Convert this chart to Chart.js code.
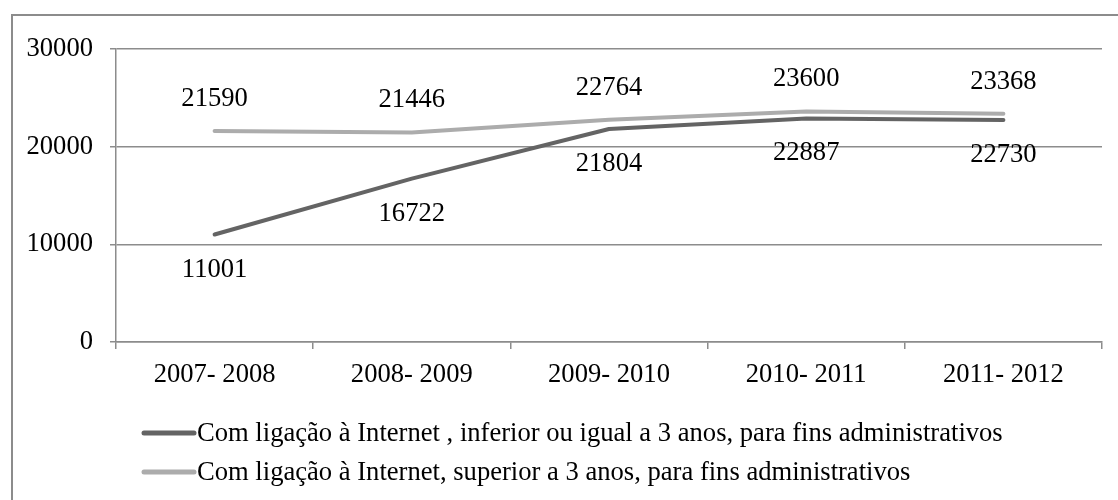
<!DOCTYPE html>
<html>
<head>
<meta charset="utf-8">
<script src="https://cdn.jsdelivr.net/npm/chart.js@4"></script>
<style>
  html, body { margin: 0; padding: 0; background: #fff; }
  #wrap {
    position: absolute;
    left: 11px;
    top: 14px;
    width: 1105px;
    height: 484px;
    border-left: 2px solid #8c8c8c;
    border-top: 2px solid #8c8c8c;
  }
</style>
</head>
<body>
<div id="wrap"><canvas id="ligacaoChart" width="1105" height="484"></canvas></div>
<script>
const anos = ["2007- 2008", "2008- 2009", "2009- 2010", "2010- 2011", "2011- 2012"];
const ateTresAnos = [11001, 16722, 21804, 22887, 22730];
const maisTresAnos = [21590, 21446, 22764, 23600, 23368];
const yTicks = [0, 10000, 20000, 30000];

const serif = "'Liberation Serif', 'Times New Roman', serif";
const fontSize = 26.6;

// value labels: dark line below the point, light line above
const valueLabels = {
    id: 'valueLabels',
    afterDatasetsDraw(chart) {
        const c = chart.ctx;
        c.save();
        c.font = fontSize + "px " + serif;
        c.fillStyle = "#000";
        c.textAlign = "center";
        c.textBaseline = "middle";
        chart.data.datasets.forEach((ds, i) => {
            chart.getDatasetMeta(i).data.forEach((pt, j) => {
                c.fillText(String(ds.data[j]), pt.x, pt.y + ds.labelShift);
            });
        });
        c.restore();
    }
};

// legend rows under the axis, left aligned
const legendRows = {
    id: 'legendRows',
    afterDraw(chart) {
        const c = chart.ctx;
        c.save();
        c.font = fontSize + "px " + serif;
        c.textBaseline = "middle";
        c.textAlign = "left";
        chart.data.datasets.forEach((ds, i) => {
            const y = 417 + i * 39;
            c.strokeStyle = ds.borderColor;
            c.lineWidth = 5;
            c.lineCap = "round";
            c.beginPath();
            c.moveTo(131, y);
            c.lineTo(181, y);
            c.stroke();
            c.fillStyle = "#000";
            c.fillText(ds.label, 184, y + 1);
        });
        c.restore();
    }
};

new Chart(document.getElementById('ligacaoChart'), {
    type: 'line',
    data: {
        labels: anos,
        datasets: [
            {
                label: "Com ligação à Internet , inferior ou igual a 3 anos, para fins administrativos",
                data: ateTresAnos,
                borderColor: "#646464",
                borderWidth: 4,
                borderCapStyle: "round",
                borderJoinStyle: "round",
                pointRadius: 0,
                tension: 0,
                labelShift: 35
            },
            {
                label: "Com ligação à Internet, superior a 3 anos, para fins administrativos",
                data: maisTresAnos,
                borderColor: "#acacac",
                borderWidth: 4,
                borderCapStyle: "round",
                borderJoinStyle: "round",
                pointRadius: 0,
                tension: 0,
                labelShift: -32
            }
        ]
    },
    options: {
        responsive: false,
        animation: false,
        layout: { padding: { top: 28, right: 16, bottom: 98, left: 0 } },
        plugins: {
            legend: { display: false },
            tooltip: { enabled: false }
        },
        scales: {
            x: {
                offset: true,
                grid: {
                    offset: true,
                    drawOnChartArea: false,
                    drawTicks: true,
                    tickLength: 7,
                    color: "#8c8c8c",
                    lineWidth: 1.5
                },
                border: { color: "#8c8c8c", width: 1.5 },
                ticks: {
                    color: "#000",
                    font: { family: serif, size: fontSize },
                    padding: 10,
                    maxRotation: 0,
                    autoSkip: false
                },
                afterFit(scale) { scale.height = 60; }
            },
            y: {
                min: 0,
                max: 30000,
                afterBuildTicks(scale) {
                    scale.ticks = yTicks.map(v => ({ value: v }));
                },
                grid: {
                    color: "#8c8c8c",
                    lineWidth: 1.5,
                    drawTicks: true,
                    tickLength: 6
                },
                border: { color: "#8c8c8c", width: 1.5 },
                ticks: {
                    color: "#000",
                    font: { family: serif, size: fontSize },
                    padding: 17,
                    callback: v => String(v)
                },
                afterFit(scale) { scale.width = 103; }
            }
        }
    },
    plugins: [valueLabels, legendRows]
});
</script>
</body>
</html>
